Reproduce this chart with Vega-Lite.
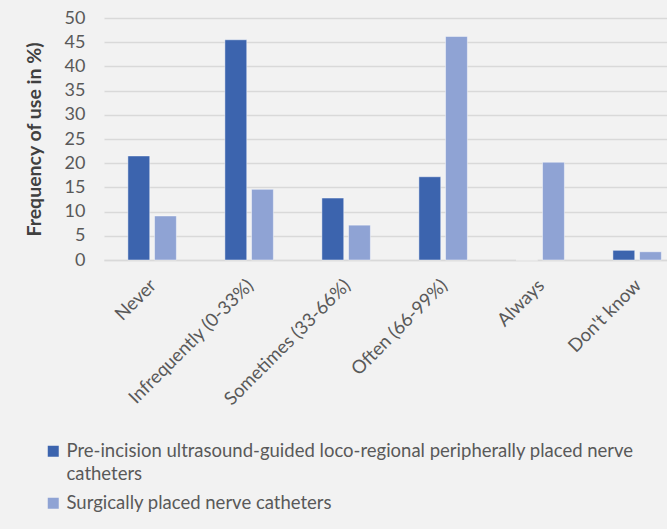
{
  "$schema": "https://vega.github.io/schema/vega-lite/v6.json",
  "autosize": {"type": "none"},
  "width": 563,
  "height": 242,
  "padding": {"left": 104, "top": 18, "right": 0, "bottom": 269},
  "background": "#f2f2f2",
  "config": {
    "view": {"stroke": null},
    "font": "Lato",
    "style": {"guide-label": {"lineHeight": 23}}
  },
  "data": {
    "values": [
      {"category": "Never", "series": "Pre-incision ultrasound-guided loco-regional peripherally placed nerve catheters", "value": 21.5},
      {"category": "Never", "series": "Surgically placed nerve catheters", "value": 9.1},
      {"category": "Infrequently (0-33%)", "series": "Pre-incision ultrasound-guided loco-regional peripherally placed nerve catheters", "value": 45.5},
      {"category": "Infrequently (0-33%)", "series": "Surgically placed nerve catheters", "value": 14.6},
      {"category": "Sometimes (33-66%)", "series": "Pre-incision ultrasound-guided loco-regional peripherally placed nerve catheters", "value": 12.8},
      {"category": "Sometimes (33-66%)", "series": "Surgically placed nerve catheters", "value": 7.2},
      {"category": "Often (66-99%)", "series": "Pre-incision ultrasound-guided loco-regional peripherally placed nerve catheters", "value": 17.2},
      {"category": "Often (66-99%)", "series": "Surgically placed nerve catheters", "value": 46.2},
      {"category": "Always", "series": "Pre-incision ultrasound-guided loco-regional peripherally placed nerve catheters", "value": 0},
      {"category": "Always", "series": "Surgically placed nerve catheters", "value": 20.2},
      {"category": "Don't know", "series": "Pre-incision ultrasound-guided loco-regional peripherally placed nerve catheters", "value": 2.0},
      {"category": "Don't know", "series": "Surgically placed nerve catheters", "value": 1.7}
    ]
  },
  "mark": {"type": "bar", "stroke": "#ffffff", "strokeOpacity": 0.45, "strokeWidth": 1},
  "encoding": {
    "x": {
      "field": "category",
      "type": "nominal",
      "sort": null,
      "scale": {"paddingInner": 0.5, "paddingOuter": 0.152, "align": 0.81},
      "axis": {
        "title": null,
        "labelAngle": -45,
        "labelAlign": "right",
        "labelBaseline": "middle",
        "labelFontSize": 18.5,
        "labelColor": "#595959",
        "labelPadding": 22,
        "labelOffset": 1,
        "ticks": false,
        "tickSize": 0,
        "domain": true,
        "domainColor": "#d9d9d9",
        "domainWidth": 1.3,
        "labelLimit": 300
      }
    },
    "xOffset": {
      "field": "series",
      "type": "nominal",
      "scale": {"paddingInner": 0.18}
    },
    "y": {
      "field": "value",
      "type": "quantitative",
      "scale": {"domain": [0, 50]},
      "axis": {
        "title": "Frequency of use in %)",
        "titleFontSize": 19.5,
        "titleFontWeight": "bold",
        "titleColor": "#404040",
        "titlePadding": 20,
        "labelFontSize": 18,
        "labelColor": "#595959",
        "labelPadding": 19,
        "ticks": false,
        "tickSize": 0,
        "domain": false,
        "gridColor": "#d9d9d9",
        "gridWidth": 1.3,
        "values": [0, 5, 10, 15, 20, 25, 30, 35, 40, 45, 50]
      }
    },
    "color": {
      "field": "series",
      "type": "nominal",
      "scale": {"range": ["#3c64ae", "#8fa3d4"]},
      "legend": {
        "title": null,
        "orient": "none",
        "legendX": -60,
        "legendY": 424,
        "direction": "vertical",
        "symbolType": "square",
        "symbolSize": 121,
        "symbolStrokeWidth": 0,
        "labelFontSize": 18.5,
        "labelColor": "#595959",
        "labelOffset": 4,
        "rowPadding": 10,
        "labelLimit": 700,
        "padding": 0,
        "labelExpr": "datum.label == 'Surgically placed nerve catheters' ? datum.label : ['Pre-incision ultrasound-guided loco-regional peripherally placed nerve', 'catheters']",
        "encode": {"labels": {"update": {"lineHeight": {"value": 23}}}}
      }
    }
  }
}
